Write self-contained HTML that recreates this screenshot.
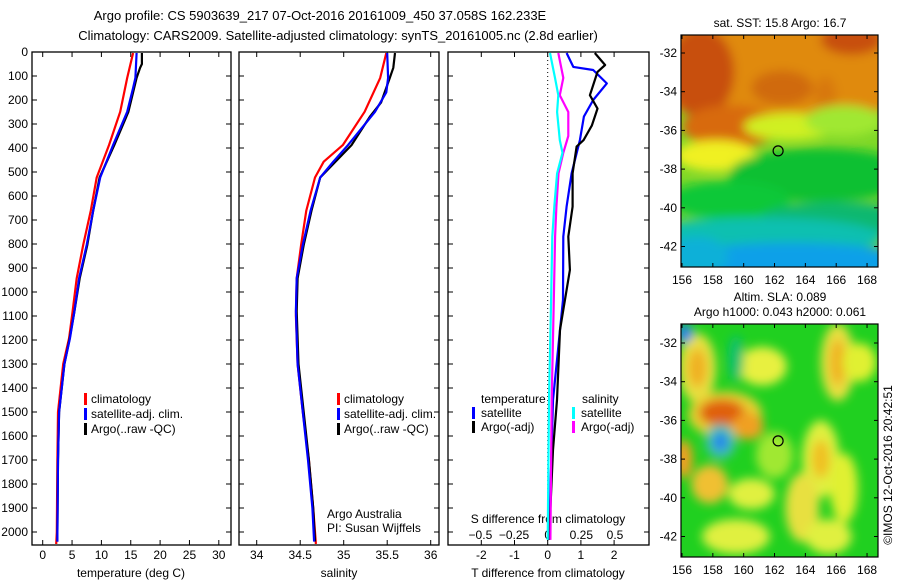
<!DOCTYPE html>
<html><head><meta charset="utf-8">
<style>
body{margin:0;background:#fff;}
svg{display:block;font-family:"Liberation Sans",sans-serif;}
text{font-size:12px;fill:#000;}
</style></head>
<body>
<svg id="fig" width="900" height="580" xmlns="http://www.w3.org/2000/svg">
<defs>
<filter id="blur8" x="-50%" y="-50%" width="200%" height="200%"><feGaussianBlur stdDeviation="5"/></filter>
<clipPath id="clipm1"><rect x="681" y="35" width="197" height="232"/></clipPath>
<clipPath id="clipm2"><rect x="681" y="324" width="197" height="233"/></clipPath>
</defs>
<text x="320" y="20" text-anchor="middle" style="font-size:13px">Argo profile: CS 5903639_217 07-Oct-2016 20161009_450 37.058S 162.233E</text>
<text x="338" y="40" text-anchor="middle" style="font-size:13px">Climatology: CARS2009. Satellite-adjusted climatology: synTS_20161005.nc (2.8d earlier)</text>
<g id="maps"></g>
<g id="panels"></g>
<text transform="translate(892,465) rotate(-90)" text-anchor="middle">©IMOS 12-Oct-2016 20:42:51</text>
</svg>
<script>
// ---- data ----
const depthsTC=[4,108,249,388,523,661,804,943,1081,1192,1300,1500,1700,2000,2050];
const tempClim=[15.4,14.4,13.2,11.3,9.2,8.2,6.9,5.8,5.1,4.5,3.5,2.6,2.5,2.4,2.3];
const depthsTS=[4,108,150,249,388,523,661,804,943,1081,1192,1300,1500,1700,2000,2040];
const tempSat=[16.0,15.8,15.4,14.4,12.0,9.8,8.6,7.5,6.2,5.4,4.65,3.7,2.8,2.6,2.5,2.5];
const depthsTA=[4,50,66,108,249,388,523,661,804,943,1081,1192,1300,1500,1700,2000,2040];
const tempArgo=[16.9,16.9,16.6,16.0,14.6,12.2,9.7,8.6,7.6,6.3,5.4,4.6,3.7,2.8,2.6,2.5,2.5];
const depthsSC=[4,108,249,388,457,523,661,804,943,1100,1300,1500,1700,1900,2050];
const salClim=[35.49,35.42,35.24,34.99,34.77,34.67,34.57,34.51,34.46,34.45,34.47,34.53,34.60,34.65,34.68];
const depthsSS=[4,108,168,249,388,457,523,661,804,943,1081,1300,1500,1700,1900,2040];
const salSat=[35.50,35.51,35.49,35.36,35.05,34.88,34.73,34.62,34.53,34.46,34.45,34.47,34.53,34.59,34.64,34.66];
const depthsSA=[4,66,108,210,270,388,523,661,804,943,1081,1300,1500,1700,1900,2040];
const salArgo=[35.59,35.57,35.53,35.43,35.30,35.09,34.73,34.63,34.54,34.47,34.46,34.48,34.54,34.60,34.65,34.67];
const depthsDT=[4,62,75,131,200,269,367,506,644,769,1033,1450,2033];
const dTsat=[0.57,0.77,1.37,1.78,1.37,1.09,0.97,0.72,0.57,0.47,0.46,0.16,0.04];
const depthsDA=[4,54,83,180,236,306,367,394,506,644,769,908,1158,1450,1658,2033];
const dTargo=[1.42,1.73,1.50,1.27,1.50,1.33,1.08,0.87,0.75,0.75,0.62,0.67,0.37,0.28,0.16,0.04];
const depthsDS=[4,108,180,250,350,420,506,644,769,1033,1450,2033];
const dSargo=[0.079,0.116,0.09,0.153,0.153,0.116,0.08,0.065,0.055,0.045,0.03,0.02];
const depthsDC=[4,108,180,250,367,420,506,644,769,1033,1450,2033];
const dSsat=[0.017,0.054,0.079,0.07,0.09,0.11,0.07,0.049,0.034,0.025,0.01,0.0];
const depthTicks=[0,100,200,300,400,500,600,700,800,900,1000,1100,1200,1300,1400,1500,1600,1700,1800,1900,2000];
const tempTicks=[0,5,10,15,20,25,30];
const salTicks=[34,34.5,35,35.5,36];
const dTTicks=[-2,-1,0,1,2];
const dSTicks=[-0.5,-0.25,0,0.25,0.5];
const lonTicks=[156,158,160,162,164,166,168];
const latTicks=[-32,-34,-36,-38,-40,-42];

const NS='http://www.w3.org/2000/svg';
const P=document.getElementById('panels');
function mk(tag,attrs,parent){const e=document.createElementNS(NS,tag);for(const k in attrs)e.setAttribute(k,attrs[k]);(parent||P).appendChild(e);return e;}
const TOP=52,BOT=545;
const yD=d=>TOP+d*0.24;
const xT=t=>42.7+t*5.87;
const xS=s=>256.7+(s-34)*87;
const xDT=t=>547.7+t*33.2;
const xDS=s=>547.7+s*134.6;

function frame(x0,x1,name){
  const r=mk('rect',{x:x0,y:TOP,width:x1-x0,height:BOT-TOP,fill:'none',stroke:'#000','stroke-width':1.3});
  
  
  depthTicks.forEach(d=>{mk('line',{x1:x0,x2:x0+5,y1:yD(d),y2:yD(d),stroke:'#000'});mk('line',{x1:x1-5,x2:x1,y1:yD(d),y2:yD(d),stroke:'#000'});});
}
function xticks(vals,fx,labY){
  vals.forEach(v=>{const x=fx(v);mk('line',{x1:x,x2:x,y1:TOP,y2:TOP+5,stroke:'#000'});mk('line',{x1:x,x2:x,y1:BOT-5,y2:BOT,stroke:'#000'});
    const t=mk('text',{x:x,y:labY,'text-anchor':'middle'});t.textContent=String(v);
    
    });
}
function line(ds,vs,fx,color,name){
  const pts=ds.map((d,i)=>fx(vs[i]).toFixed(1)+','+yD(d).toFixed(1)).join(' ');
  const p=mk('polyline',{points:pts,fill:'none',stroke:color,'stroke-width':2.2,'stroke-linejoin':'round'});
  
  
}
function label(x,y,s,name,anchor){const t=mk('text',{x:x,y:y,'text-anchor':anchor||'start'});t.textContent=s;
  
  return t;}
function legBar(x,y,c){mk('rect',{x:x,y:y-10,width:3,height:12,fill:c});}

// Panel 1
frame(32,231,'temperature-panel');
depthTicks.forEach(d=>{label(28,yD(d)+4,String(d),'depth-tick-label','end');});
xticks(tempTicks,xT,559);
label(131,577,'temperature (deg C)','x-axis-title-temperature','middle');
line(depthsTC,tempClim,xT,'#f00','temp-climatology-line');
line(depthsTA,tempArgo,xT,'#000','temp-argo-line');
line(depthsTS,tempSat,xT,'#00f','temp-satellite-line');
legBar(84,403,'#f00');label(91,403,'climatology','legend-climatology');
legBar(84,418,'#00f');label(91,418,'satellite-adj. clim.','legend-satellite');
legBar(84,433,'#000');label(91,433,'Argo(..raw -QC)','legend-argo');

// Panel 2
frame(239,439,'salinity-panel');
xticks(salTicks,xS,559);
label(339,577,'salinity','x-axis-title-salinity','middle');
line(depthsSC,salClim,xS,'#f00','sal-climatology-line');
line(depthsSA,salArgo,xS,'#000','sal-argo-line');
line(depthsSS,salSat,xS,'#00f','sal-satellite-line');
legBar(337,403,'#f00');label(344,403,'climatology','legend-climatology-2');
legBar(337,418,'#00f');label(344,418,'satellite-adj. clim.','legend-satellite-2');
legBar(337,433,'#000');label(344,433,'Argo(..raw -QC)','legend-argo-2');
label(327,518,'Argo Australia','credit-argo-australia');
label(327,532,'PI: Susan Wijffels','credit-pi');

// Panel 3
frame(448,649,'difference-panel');
mk('line',{x1:xDT(0),x2:xDT(0),y1:TOP,y2:BOT,stroke:'#000','stroke-dasharray':'1,3'});
xticks(dTTicks,xDT,559);
dSTicks.forEach(v=>{label(xDS(v),539,v===0?'0':String(v).replace('-','\u2212'),'s-tick-label','middle');});
label(548,523,'S difference from climatology','s-axis-title','middle');
label(548,577,'T difference from climatology','t-axis-title','middle');
line(depthsDT,dTsat,xDT,'#00f','dT-satellite-line');
line(depthsDA,dTargo,xDT,'#000','dT-argo-line');
line(depthsDS,dSargo,xDS,'#f0f','dS-argo-line');
line(depthsDC,dSsat,xDS,'#0ff','dS-satellite-line');
label(481,403,'temperature','legend-temperature-heading');
legBar(472,417,'#00f');label(481,417,'satellite','legend-t-satellite');
legBar(472,431,'#000');label(481,431,'Argo(-adj)','legend-t-argo');
label(582,403,'salinity','legend-salinity-heading');
legBar(572,417,'#0ff');label(581,417,'satellite','legend-s-satellite');
legBar(572,431,'#f0f');label(581,431,'Argo(-adj)','legend-s-argo');

// ---- maps ----
const M=document.getElementById('maps');
const xLon=l=>682+(l-156)*15.42;
function map(top,bot,lat32,clip,name,blobs,bg,title1,title2){
  const yLat=la=>lat32+(-32-la)*19.35;
  const g=mk('g',{'clip-path':'url(#'+clip+')'},M);
  
  
  mk('rect',{x:681,y:top,width:197,height:bot-top,fill:bg},g);
  const gb=mk('g',{filter:'url(#blur8)'},g);
  blobs.forEach(b=>mk('ellipse',{cx:xLon(b[0]),cy:yLat(b[1]),rx:b[2]*15.42,ry:b[3]*19.35,fill:b[4]},gb));
  mk('rect',{x:681,y:top,width:197,height:bot-top,fill:'none',stroke:'#000','stroke-width':1.2},M);
  lonTicks.forEach(l=>{const x=xLon(l);mk('line',{x1:x,x2:x,y1:top,y2:top+4,stroke:'#000'},M);mk('line',{x1:x,x2:x,y1:bot-4,y2:bot,stroke:'#000'},M);
    const t=mk('text',{x:x,y:bot+17,'text-anchor':'middle'},M);t.textContent=String(l);
    
    });
  latTicks.forEach(la=>{const y=yLat(la);mk('line',{x1:681,x2:685,y1:y,y2:y,stroke:'#000'},M);mk('line',{x1:874,x2:878,y1:y,y2:y,stroke:'#000'},M);
    const t=mk('text',{x:677,y:y+4,'text-anchor':'end'},M);t.textContent=String(la);
    
    });
  const c=mk('circle',{cx:xLon(162.233),cy:yLat(-37.058),r:5,fill:'none',stroke:'#000','stroke-width':1.2},M);
  
  
  if(title1){const t=mk('text',{x:780,y:top-8,'text-anchor':'middle'},M);t.textContent=title1;}
  if(title2){const t=mk('text',{x:780,y:top-23,'text-anchor':'middle'},M);t.textContent=title2;}
  return yLat;
}
map(35,267,53,'clipm1','sst-map',[
  [162,-32.8,14,2.5,'#e08a10'],[157.2,-33,2.2,2.3,'#c8500c'],[167,-31.3,2,0.8,'#c8500c'],
  [159.2,-35.8,3.2,1.1,'#d86a0a'],[162.5,-33.8,2,0.9,'#d06a0a'],[165.3,-34.2,0.7,1,'#d8780c'],
  [158.2,-37.3,2.6,0.8,'#f0f020'],[163,-35.8,3,0.7,'#d0f020'],[166.5,-35.5,2.5,0.8,'#a0e830'],
  [165,-38.3,6,1.4,'#10c030'],[159,-39.6,4,1.0,'#10c838'],[166,-40.6,5,0.9,'#10b870'],
  [161,-41.5,8,1.0,'#10c0b0'],[163,-42.8,8,1,'#10a0e8'],[157,-42.5,2,1,'#10b0d8']
],'#80d828','sat. SST: 15.8 Argo: 16.7');
map(324,557,343,'clipm2','sla-map',[
  [157,-33.3,1.2,1.8,'#e8e040'],[157,-33.3,0.6,1.0,'#f0b020'],[161.2,-33.2,1.6,1.0,'#e8f040'],
  [166.1,-33,1.1,2.0,'#e8e040'],[166.1,-33,0.5,1.2,'#f0b020'],
  [158.8,-35.7,2.4,1.2,'#e8d030'],[158.6,-35.6,1.5,0.7,'#e06010'],[160.3,-36.3,1,0.7,'#f0a020'],
  [158.5,-37.1,1.0,0.9,'#40c0b0'],[158.5,-37.1,0.45,0.45,'#2080f0'],
  [156.1,-38,0.6,1,'#f0a020'],[157.8,-39.3,1.2,1.0,'#f0c030'],[160.5,-39.8,1.5,0.8,'#e0f040'],
  [165,-38,1.2,2.0,'#e0f040'],[165,-38,0.6,1.0,'#f0c020'],[163.8,-40.5,1.1,1.8,'#e8e040'],
  [166.5,-39.5,0.9,1.8,'#e0f030'],[167.5,-33,1.1,1.0,'#e0f030'],[159.5,-42,2.2,0.9,'#e0f040'],
  [165.5,-42,1.5,0.9,'#e0f040'],[162,-37.8,1.2,1.2,'#a0e830'],
  [156.2,-31.5,0.5,0.5,'#2080f0'],[159.5,-32.8,0.5,1.2,'#10c070']
],'#20d020','Argo h1000: 0.043 h2000: 0.061','Altim. SLA: 0.089');
</script>
</body></html>
